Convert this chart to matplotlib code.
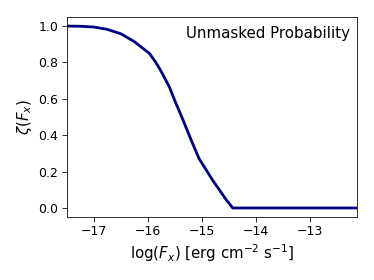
import numpy as np
import matplotlib
matplotlib.use('Agg')
import matplotlib.pyplot as plt

# ── Unmasked probability curve ────────────────────────────────────────────
log_fx = [-17.5, -17.25, -17.0, -16.75, -16.5, -16.25, -16.1, -15.97,
          -15.85, -15.75, -15.6, -15.5, -15.35, -15.2, -15.05, -14.9,
          -14.8, -14.67, -14.55, -14.43, -12.1]
zeta = [1.0, 0.999, 0.995, 0.982, 0.958, 0.915, 0.88, 0.85,
        0.80, 0.75, 0.665, 0.59, 0.485, 0.375, 0.27, 0.20,
        0.152, 0.097, 0.045, 0.0, 0.0]

fig = plt.figure(figsize=(374 / 72, 280 / 72), dpi=72)
ax = fig.add_axes([0.178, 0.226, 0.777, 0.714])

ax.plot(log_fx, zeta, color='navy', linewidth=2.8)
ax.set_xlim(-17.5, -12.13)
ax.set_ylim(-0.048, 1.051)
ax.set_xticks([-17, -16, -15, -14, -13])
ax.set_yticks([0.0, 0.2, 0.4, 0.6, 0.8, 1.0])
ax.tick_params(labelsize=12.5, length=5)

ax.set_xlabel(r'log($F_x$) [erg cm$^{-2}$ s$^{-1}$]', fontsize=15)
ax.set_ylabel(r'$\zeta(F_x)$', fontsize=15)
ax.text(0.975, 0.915, 'Unmasked Probability', transform=ax.transAxes,
        ha='right', va='center', fontsize=15)

fig.savefig('out.png', dpi=72)
